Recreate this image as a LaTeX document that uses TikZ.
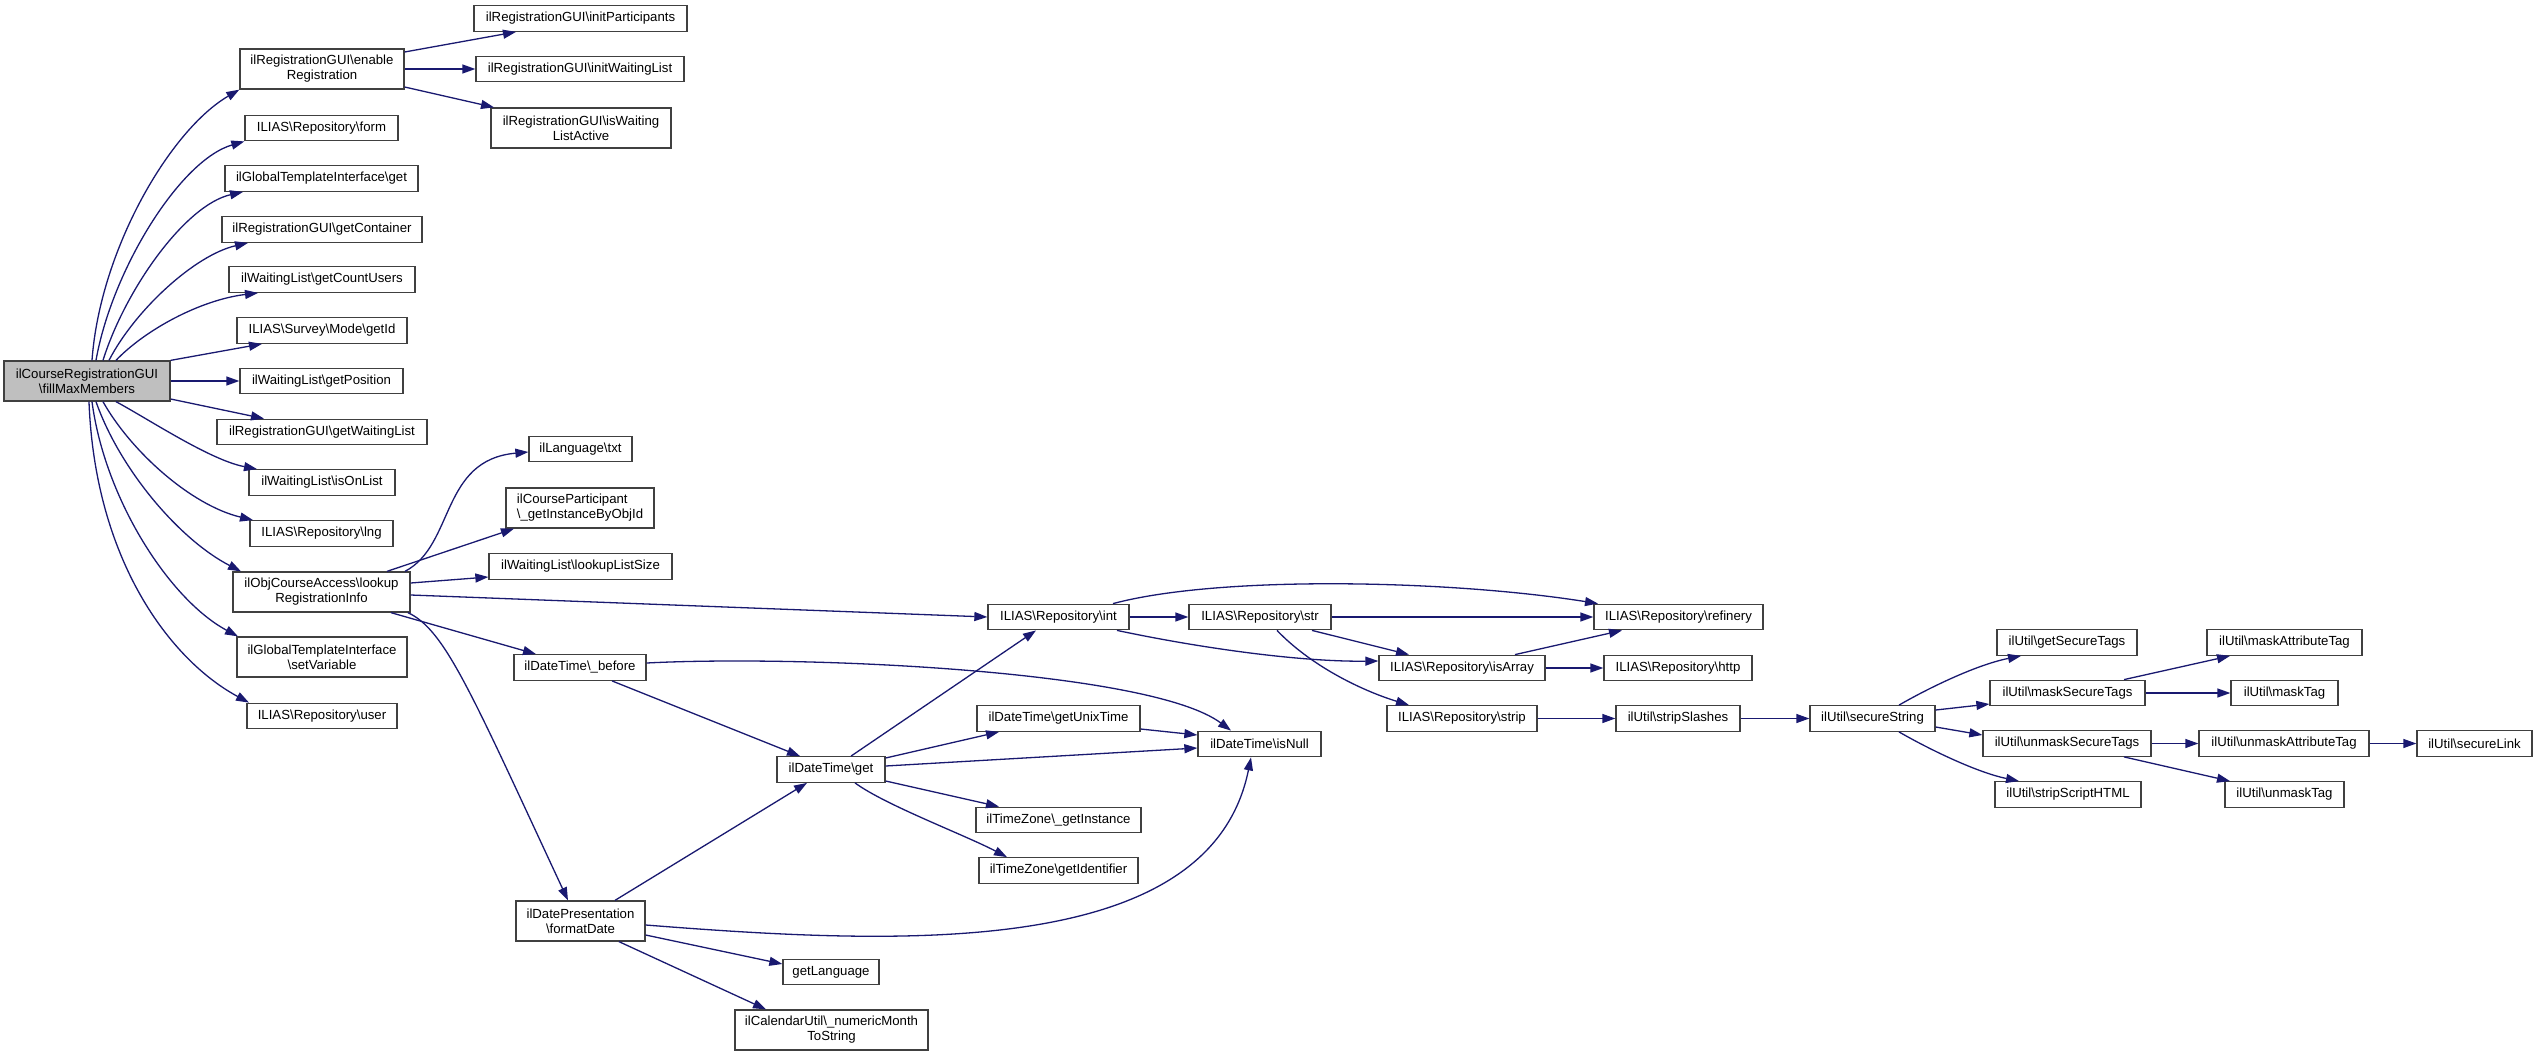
\documentclass[tikz,border=0pt]{standalone}
\usepackage{fontspec}
\setmainfont{Liberation Sans}
\usetikzlibrary{arrows.meta,calc}
\definecolor{edgeblue}{HTML}{191970}
\definecolor{nodeborder}{HTML}{404040}
\definecolor{rootfill}{HTML}{BFBFBF}
\newcommand\BSL{\textbackslash}
\begin{document}
\begin{tikzpicture}[x=1pt,y=-1pt,
  box/.style={draw=nodeborder, line width=1.3pt, fill=white, inner sep=0pt, align=center,
    font=\fontsize{13.2}{15}\selectfont},
  bA/.style={box, minimum height=25.5pt},
  bB/.style={box, minimum height=40pt},
  edg/.style={draw=edgeblue, line width=1.3pt, -{Triangle[length=13pt,width=9pt]}}]
\fill[white] (0,0) rectangle (2537,1057);
\useasboundingbox (0,0) rectangle (2537,1057);
% column 1
\node[bB, minimum width=166pt, fill=rootfill] (F) at (87,381) {ilCourseRegistrationGUI\\\BSL fillMaxMembers};
% column 2
\node[bB, minimum width=164pt] (E) at (322,69) {ilRegistrationGUI\BSL enable\\Registration};
\node[bA, minimum width=153pt] (form) at (321.5,128) {ILIAS\BSL Repository\BSL form};
\node[bA, minimum width=193pt] (gget) at (321.5,178.5) {ilGlobalTemplateInterface\BSL get};
\node[bA, minimum width=200pt] (gc) at (322,229.5) {ilRegistrationGUI\BSL getContainer};
\node[bA, minimum width=186pt] (gcu) at (322,279.5) {ilWaitingList\BSL getCountUsers};
\node[bA, minimum width=170pt] (gid) at (322,330.5) {ILIAS\BSL Survey\BSL Mode\BSL getId};
\node[bA, minimum width=163pt] (gp) at (321.5,381) {ilWaitingList\BSL getPosition};
\node[bA, minimum width=210pt] (gwl) at (322,432) {ilRegistrationGUI\BSL getWaitingList};
\node[bA, minimum width=146pt] (iol) at (322,482.5) {ilWaitingList\BSL isOnList};
\node[bA, minimum width=143pt] (lng) at (321.5,533.5) {ILIAS\BSL Repository\BSL lng};
\node[bB, minimum width=177pt] (L) at (321.5,592) {ilObjCourseAccess\BSL lookup\\RegistrationInfo};
\node[bB, minimum width=170pt] (sv) at (322,657) {ilGlobalTemplateInterface\\\BSL setVariable};
\node[bA, minimum width=150pt] (user) at (322,716) {ILIAS\BSL Repository\BSL user};
% column 3
\node[bA, minimum width=213pt] (iP) at (580.5,18.5) {ilRegistrationGUI\BSL initParticipants};
\node[bA, minimum width=208pt] (iW) at (580,69) {ilRegistrationGUI\BSL initWaitingList};
\node[bB, minimum width=180pt] (iA) at (581,128) {ilRegistrationGUI\BSL isWaiting\\ListActive};
\node[bA, minimum width=103pt] (txt) at (580.5,449) {ilLanguage\BSL txt};
\node[bB, minimum width=148pt, align=left] (cp) at (580,508) {ilCourseParticipant\\\BSL\_getInstanceByObjId};
\node[bA, minimum width=183pt] (lls) at (580.5,566.5) {ilWaitingList\BSL lookupListSize};
\node[bA, minimum width=132pt] (B) at (580,667.5) {ilDateTime\BSL\_before};
\node[bB, minimum width=129pt] (FD) at (580.5,921) {ilDatePresentation\\\BSL formatDate};
% column 4
\node[bA, minimum width=108pt] (G) at (831,769.5) {ilDateTime\BSL get};
\node[bA, minimum width=96pt] (gl) at (831,972) {getLanguage};
\node[bB, minimum width=193pt] (nm) at (831.5,1030) {ilCalendarUtil\BSL\_numericMonth\\ToString};
% column 5
\node[bA, minimum width=141pt] (int) at (1058.5,617) {ILIAS\BSL Repository\BSL int};
\node[bA, minimum width=163pt] (gut) at (1058.5,718.5) {ilDateTime\BSL getUnixTime};
\node[bA, minimum width=165pt] (tzi) at (1058.5,820) {ilTimeZone\BSL\_getInstance};
\node[bA, minimum width=159pt] (tzg) at (1058.5,870.5) {ilTimeZone\BSL getIdentifier};
% column 6
\node[bA, minimum width=142pt] (str) at (1260,617) {ILIAS\BSL Repository\BSL str};
\node[bA, minimum width=123pt] (isNull) at (1259.5,744) {ilDateTime\BSL isNull};
% column 7
\node[bA, minimum width=166pt] (isArr) at (1462,668) {ILIAS\BSL Repository\BSL isArray};
\node[bA, minimum width=150pt] (strip) at (1462,718.5) {ILIAS\BSL Repository\BSL strip};
% column 8
\node[bA, minimum width=169pt] (ref) at (1678.5,617) {ILIAS\BSL Repository\BSL refinery};
\node[bA, minimum width=148pt] (http) at (1678,668) {ILIAS\BSL Repository\BSL http};
\node[bA, minimum width=124pt] (ss) at (1678,718.5) {ilUtil\BSL stripSlashes};
% column 9
\node[bA, minimum width=125pt] (sec) at (1872.5,718.5) {ilUtil\BSL secureString};
% column 10
\node[bA, minimum width=140pt] (gst) at (2067,642.5) {ilUtil\BSL getSecureTags};
\node[bA, minimum width=155pt] (mst) at (2067.5,693) {ilUtil\BSL maskSecureTags};
\node[bA, minimum width=168pt] (umst) at (2067,743.5) {ilUtil\BSL unmaskSecureTags};
\node[bA, minimum width=146pt] (ssh) at (2068,794.5) {ilUtil\BSL stripScriptHTML};
% column 11
\node[bA, minimum width=155pt] (mat) at (2284.5,642.5) {ilUtil\BSL maskAttributeTag};
\node[bA, minimum width=107pt] (mt) at (2284.5,693) {ilUtil\BSL maskTag};
\node[bA, minimum width=170pt] (umat) at (2284,743.5) {ilUtil\BSL unmaskAttributeTag};
\node[bA, minimum width=119pt] (umt) at (2284.5,794.5) {ilUtil\BSL unmaskTag};
% column 12
\node[bA, minimum width=115pt] (sl) at (2474.5,743.5) {ilUtil\BSL secureLink};

% edges from fillMaxMembers
\draw[edg] (F.north -| 92,0) .. controls (100,250) and (170,130) .. (E.south west);
\draw[edg] (F.north -| 96,0) .. controls (112,270) and (180,160) .. (form.south west);
\draw[edg] (F.north -| 103,0) .. controls (125,290) and (185,205) .. (gget.south -| 243,0);
\draw[edg] (F.north -| 109,0) .. controls (135,310) and (195,255) .. (gc.south -| 248,0);
\draw[edg] (F.north -| 116,0) .. controls (145,330) and (200,300) .. (gcu.south -| 258,0);
\draw[edg] (F.north east) -- (gid.south -| 262,0);
\draw[edg] (F.east) -- (gp.west);
\draw[edg] (F.east |- 0,399) -- (gwl.north -| 264,0);
\draw[edg] (F.south -| 116,0) .. controls (150,420) and (210,460) .. (iol.north -| 257,0);
\draw[edg] (F.south -| 103,0) .. controls (130,450) and (190,505) .. (lng.north -| 253,0);
\draw[edg] (F.south -| 96,0) .. controls (120,470) and (180,540) .. (L.north -| 241,0);
\draw[edg] (F.south -| 92,0) .. controls (105,500) and (170,600) .. (sv.north -| 238,0);
\draw[edg] (F.south -| 89,0) .. controls (95,560) and (170,660) .. (user.north -| 249,0);
% enableRegistration
\draw[edg] (E.east |- 0,52) -- (iP.south -| 516,0);
\draw[edg] (E.east) -- (iW.west);
\draw[edg] (E.east |- 0,87) -- (iA.north -| 494,0);
% lookupRegistrationInfo
\draw[edg] (L.north -| 405,0) .. controls (455,545) and (440,460) .. (txt.west |- 0,452);
\draw[edg] (L.north -| 387,0) -- (cp.south -| 514,0);
\draw[edg] (L.east |- 0,583) -- (lls.west |- 0,577);
\draw[edg] (L.east |- 0,595) -- (int.west);
\draw[edg] (L.south -| 391,0) -- (B.north -| 536,0);
\draw[edg] (L.south -| 408,0) .. controls (445,630) and (470,690) .. (FD.north -| 568,0);
% _before
\draw[edg] (B.east |- 0,663) .. controls (800,655) and (1150,670) .. (isNull.north -| 1231,0);
\draw[edg] (B.south -| 612,0) -- (G.north -| 800,0);
% formatDate
\draw[edg] (FD.north -| 615,0) -- (G.south -| 807,0);
\draw[edg] (FD.east |- 0,925) .. controls (900,945) and (1210,960) .. (isNull.south -| 1251,0);
\draw[edg] (FD.east |- 0,935) -- (gl.west |- 0,964);
\draw[edg] (FD.south -| 619,0) -- (nm.north -| 766,0);
% DateTime get
\draw[edg] (G.north -| 851,0) -- (int.south -| 1036,0);
\draw[edg] (G.east |- 0,758) -- (gut.south -| 999,0);
\draw[edg] (G.east |- 0,766) -- (isNull.west |- 0,748);
\draw[edg] (G.east |- 0,781) -- (tzi.north -| 999,0);
\draw[edg] (G.south -| 855,0) .. controls (885,805) and (965,835) .. (tzg.north -| 1007,0);
\draw[edg] (gut.east |- 0,729) -- (isNull.west |- 0,735);
% int
\draw[edg] (int.east) -- (str.west);
\draw[edg] (int.north -| 1113,0) .. controls (1220,575) and (1450,580) .. (ref.north -| 1598,0);
\draw[edg] (int.south -| 1117,0) .. controls (1200,648) and (1300,662) .. (isArr.west |- 0,661);
% str
\draw[edg] (str.east) -- (ref.west);
\draw[edg] (str.south -| 1312,0) -- (isArr.north -| 1409,0);
\draw[edg] (str.south -| 1277,0) .. controls (1310,665) and (1360,690) .. (strip.north -| 1409,0);
% isArray, strip, stripSlashes
\draw[edg] (isArr.north -| 1515,0) -- (ref.south -| 1622,0);
\draw[edg] (isArr.east) -- (http.west);
\draw[edg] (strip.east) -- (ss.west);
\draw[edg] (ss.east) -- (sec.west);
% secureString
\draw[edg] (sec.north -| 1899,0) .. controls (1925,690) and (1975,665) .. (gst.south -| 2021,0);
\draw[edg] (sec.east |- 0,710) -- (mst.west |- 0,704);
\draw[edg] (sec.east |- 0,727) -- (umst.west |- 0,735);
\draw[edg] (sec.south -| 1899,0) .. controls (1925,747) and (1975,772) .. (ssh.north -| 2019,0);
\draw[edg] (mst.north -| 2124,0) -- (mat.south -| 2230,0);
\draw[edg] (mst.east) -- (mt.west);
\draw[edg] (umst.east) -- (umat.west);
\draw[edg] (umst.south -| 2124,0) -- (umt.north -| 2230,0);
\draw[edg] (umat.east) -- (sl.west);
\end{tikzpicture}
\end{document}
